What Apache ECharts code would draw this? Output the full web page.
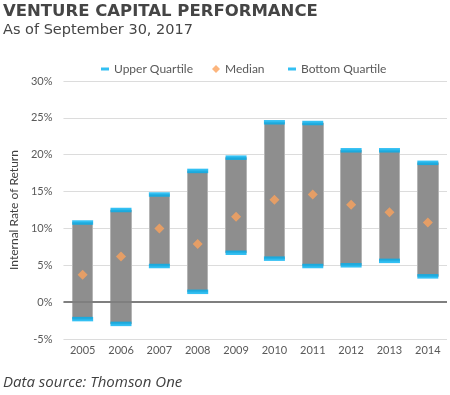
<!DOCTYPE html>
<html><head><meta charset="utf-8">
<script src="https://cdn.jsdelivr.net/npm/echarts@6/dist/echarts.min.js"></script>
<style>html,body{margin:0;padding:0;background:#fff}#c{width:450px;height:395px}</style>
</head><body><div id="c"></div>
<script>
var years = ['2005','2006','2007','2008','2009','2010','2011','2012','2013','2014'];
var upperQuartile = [10.8, 12.5, 14.6, 17.8, 19.6, 24.4, 24.3, 20.6, 20.6, 18.9];
var median = [3.7, 6.2, 10.0, 7.9, 11.6, 13.9, 14.6, 13.2, 12.2, 10.8];
var bottomQuartile = [-2.3, -2.95, 4.9, 1.4, 6.7, 5.9, 4.9, 5.0, 5.6, 3.5];
var yTicks = [-5, 0, 5, 10, 15, 20, 25, 30];

var BLUE = '#00b0f0', ORANGE = '#fba35c', GRAY = '#8e8e8e', TXT = '#595959';
var FONT = 'Lato';
var rangeData = years.map(function (y, i) {
  return [bottomQuartile[i], upperQuartile[i], bottomQuartile[i], upperQuartile[i]];
});
var chart = echarts.init(document.getElementById('c'), null, {renderer: 'canvas'});
var legendBase = {top: 58, itemGap: 10, textStyle: {color: TXT, fontSize: 12, fontFamily: FONT}};
chart.setOption({
  animation: false,
  title: [
    {text: 'VENTURE CAPITAL PERFORMANCE', left: -2, top: -2,
     textStyle: {fontFamily: 'DejaVu Sans', fontSize: 16.5, fontWeight: 'bold', color: '#454545'}},
    {text: 'As of September 30, 2017', left: -2, top: 18,
     textStyle: {fontFamily: 'DejaVu Sans', fontSize: 14.5, fontWeight: 'normal', color: '#454545'}},
    {text: 'Data source: Thomson One', left: -2, top: 370,
     textStyle: {fontFamily: 'Open Sans', fontSize: 15, fontStyle: 'italic', fontWeight: 'normal', color: '#404040'}}
  ],
  legend: [
    Object.assign({}, legendBase, {left: 96, data: [{name: 'Upper Quartile', icon: 'rect'}], itemWidth: 8, itemHeight: 3}),
    Object.assign({}, legendBase, {left: 207, data: [{name: 'Median', icon: 'diamond'}], itemWidth: 8, itemHeight: 8}),
    Object.assign({}, legendBase, {left: 283, data: [{name: 'Bottom Quartile', icon: 'rect'}], itemWidth: 8, itemHeight: 3})
  ],
  grid: {left: 57, right: 3, top: 81, bottom: 56},
  xAxis: {
    type: 'category', data: years,
    axisLine: {show: false, onZero: false}, axisTick: {show: false},
    axisLabel: {color: TXT, fontSize: 11, fontFamily: FONT, margin: 6}
  },
  yAxis: {
    type: 'value', min: yTicks[0], max: yTicks[yTicks.length - 1], interval: 5,
    name: 'Internal Rate of Return', nameLocation: 'middle', nameGap: 42, nameRotate: 90,
    nameTextStyle: {color: '#404040', fontSize: 12, fontFamily: FONT},
    axisLine: {show: false}, axisTick: {show: false},
    axisLabel: {color: TXT, fontSize: 11, fontFamily: FONT, margin: 11, formatter: '{value}%'},
    splitLine: {lineStyle: {color: '#dcdcdc', width: 1}}
  },
  series: [
    {
      type: 'candlestick', name: 'Range', data: rangeData, barWidth: 21, silent: true,
      itemStyle: {color: GRAY, color0: GRAY, borderColor: '#b4b4b4', borderColor0: '#b4b4b4', borderWidth: 1},
      markLine: {silent: true, symbol: 'none', label: {show: false},
        lineStyle: {color: '#7f7f7f', width: 2, type: 'solid'}, data: [{yAxis: 0}]},
      z: 2
    },
    {type: 'scatter', name: 'Upper Quartile', data: upperQuartile, symbol: 'rect', symbolSize: [21, 4.5],
     itemStyle: {color: BLUE}, z: 3},
    {type: 'scatter', name: 'Bottom Quartile', data: bottomQuartile, symbol: 'rect', symbolSize: [21, 4.5],
     itemStyle: {color: BLUE}, z: 3},
    {type: 'scatter', name: 'Median', data: median, symbol: 'diamond', symbolSize: [10, 10],
     itemStyle: {color: ORANGE}, z: 4}
  ]
});
</script></body></html>
